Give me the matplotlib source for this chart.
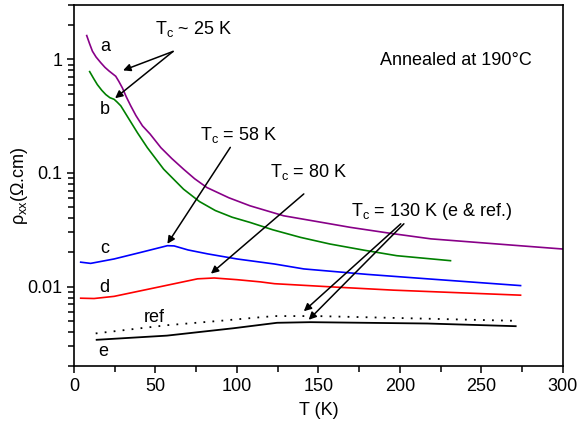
import matplotlib
matplotlib.use('Agg')
import matplotlib.pyplot as plt

plt.rcParams['font.family'] = ['Liberation Sans', 'DejaVu Sans']
plt.rcParams['mathtext.fontset'] = 'custom'
plt.rcParams['mathtext.rm'] = 'Liberation Sans'
plt.rcParams['mathtext.it'] = 'Liberation Sans'
plt.rcParams['font.size'] = 13

# curves: temperature (K) and resistivity (Ohm.cm)
a_T = [7.8, 9.5, 11.3, 13.5, 16.4, 19, 21.5, 23.5, 25.6, 27.5, 29.7, 32, 34.8,
       38, 42, 46.7, 53.3, 60, 67.2, 74, 81.5, 95, 108, 128.6, 157, 169.6,
       195, 219, 251.6, 275, 300]
a_rho = [1.62, 1.38, 1.18, 1.05, 0.935, 0.85, 0.79, 0.75, 0.71, 0.64, 0.56,
         0.47, 0.39, 0.32, 0.26, 0.22, 0.167, 0.134, 0.108, 0.089, 0.0745,
         0.0605, 0.0514, 0.042, 0.0357, 0.0332, 0.0293, 0.0263, 0.0242,
         0.0228, 0.0214]

b_T = [9.6, 12, 14.3, 17, 19.5, 22, 24.6, 26.5, 28.7, 31, 33.8, 39, 45, 55,
       67.2, 77, 86.7, 97, 108, 122, 139, 157, 178, 198, 231]
b_rho = [0.78, 0.68, 0.60, 0.535, 0.49, 0.46, 0.445, 0.42, 0.39, 0.345, 0.297,
         0.225, 0.167, 0.108, 0.072, 0.056, 0.0467, 0.0408, 0.0367, 0.0316,
         0.0271, 0.0237, 0.0209, 0.0187, 0.0169]

c_T = [4.1, 10.2, 24.6, 41, 57.3, 61.4, 70, 82, 100, 123, 141, 180, 216.8, 274]
c_rho = [0.0164, 0.016, 0.0175, 0.020, 0.0229, 0.0228, 0.021, 0.0194, 0.0175,
         0.0158, 0.0143, 0.0128, 0.0117, 0.0102]

d_T = [4.1, 12.3, 24.6, 51.2, 75.8, 86, 100, 114.3, 123, 160, 196, 274]
d_rho = [0.0079, 0.00785, 0.0082, 0.00986, 0.0117, 0.0119, 0.0115, 0.011,
         0.0106, 0.0099, 0.0093, 0.0084]

ref_T = [13.3, 57, 90, 114.3, 123, 149, 270]
ref_rho = [0.00387, 0.00457, 0.0050, 0.00537, 0.0055, 0.0055, 0.0050]

e_T = [13.9, 57, 98, 114.3, 124.6, 145, 216.8, 271]
e_rho = [0.0034, 0.0037, 0.0043, 0.0046, 0.0048, 0.00486, 0.00473, 0.00448]

fig = plt.figure(figsize=(5.8, 4.23), dpi=100)
ax = fig.add_axes([0.1276, 0.1348, 0.843, 0.853])

ax.plot(a_T, a_rho, color='#880088', lw=1.2)
ax.plot(b_T, b_rho, color='#008000', lw=1.2)
ax.plot(c_T, c_rho, color='#0000ff', lw=1.2)
ax.plot(d_T, d_rho, color='#ff0000', lw=1.2)
ax.plot(ref_T, ref_rho, color='k', lw=1.3, linestyle=(0, (1, 4)))
ax.plot(e_T, e_rho, color='k', lw=1.3)

ax.set_yscale('log')
ax.set_xlim(0, 300)
ax.set_ylim(0.002, 3)
ax.set_yticks([0.01, 0.1, 1])
ax.set_yticklabels(['0.01', '0.1', '1'])
ax.set_xticks([0, 50, 100, 150, 200, 250, 300])
ax.set_xticks([25, 75, 125, 175, 225, 275], minor=True)
ax.tick_params(which='major', length=5, width=1.1)
ax.tick_params(which='minor', length=4, width=1.1)
ax.tick_params(axis='y', which='minor', labelleft=False)
for s in ax.spines.values():
    s.set_linewidth(1.2)

ax.set_xlabel('T (K)', labelpad=5)
ax.set_ylabel(r'$\rho_{xx}$(Ω.cm)', labelpad=-2)

# curve labels
ax.text(18.9, 1.31, 'a', ha='center', va='center')
ax.text(18.9, 0.359, 'b', ha='center', va='center')
ax.text(18.9, 0.0216, 'c', ha='center', va='center')
ax.text(18.9, 0.0099, 'd', ha='center', va='center')
ax.text(49, 0.0053, 'ref', ha='center', va='center')
ax.text(18, 0.00267, 'e', ha='center', va='center')

ax.text(0.78, 0.848, 'Annealed at 190°C', transform=ax.transAxes,
        ha='center', va='center')

# Tc annotations
ax.text(50, 1.85, r'T$_c$ ~ 25 K', ha='left', va='center')
ax.text(77, 0.215, r'T$_c$ = 58 K', ha='left', va='center')
ax.text(120, 0.102, r'T$_c$ = 80 K', ha='left', va='center')
ax.text(170, 0.046, r'T$_c$ = 130 K (e & ref.)', ha='left', va='center')

arrow = dict(arrowstyle='-|>', color='k', lw=1.1, mutation_scale=11,
             shrinkA=0, shrinkB=0)
ax.annotate('', xy=(30.1, 0.80), xytext=(60.8, 1.175), arrowprops=arrow)
ax.annotate('', xy=(25.2, 0.455), xytext=(60.8, 1.175), arrowprops=arrow)
ax.annotate('', xy=(57.3, 0.0238), xytext=(95.9, 0.168), arrowprops=arrow)
ax.annotate('', xy=(84, 0.013), xytext=(141, 0.0654), arrowprops=arrow)
ax.annotate('', xy=(141, 0.00607), xytext=(200.5, 0.0357), arrowprops=arrow)
ax.annotate('', xy=(144, 0.0051), xytext=(202.4, 0.0357), arrowprops=arrow)

plt.savefig('out.png', dpi=100)
